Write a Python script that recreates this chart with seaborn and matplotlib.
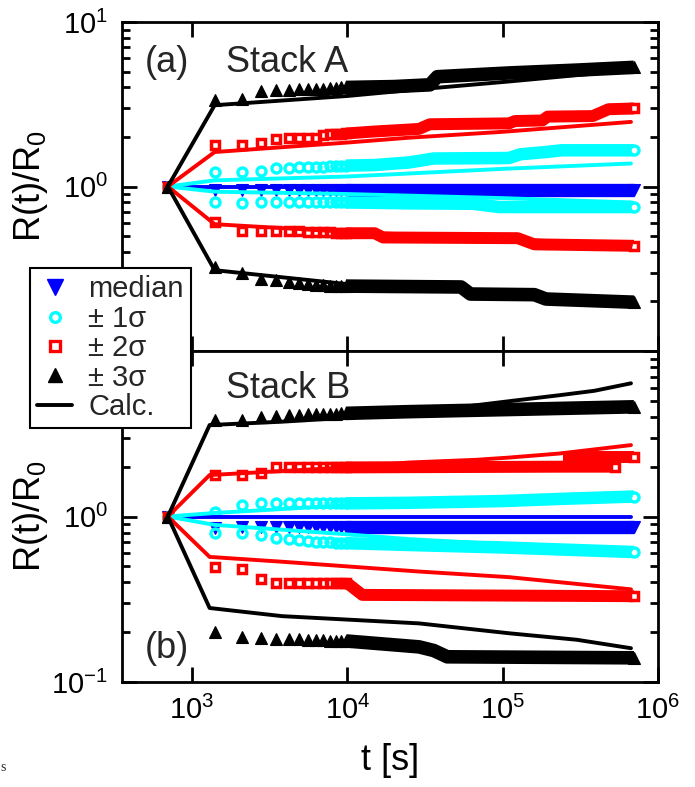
import matplotlib
matplotlib.use("Agg")
import matplotlib.pyplot as plt
import seaborn as sns
import pandas as pd
from matplotlib.lines import Line2D
from matplotlib.ticker import NullLocator, NullFormatter

# ---------------- data ----------------
# measurement times of the first, individually visible markers
T_EARLY = [700, 1400, 2100, 2800, 3500, 4200, 4900, 5600, 6300, 7000, 7700, 8400, 9100, 9800]

# ---- Stack A : early marker values ----
A_MED_E = [1.0, 0.95, 0.95, 0.95, 0.95, 0.95, 0.95, 0.95, 0.95, 0.95, 0.95, 0.95, 0.95, 0.95]
A_P1_E = [1.0, 1.23, 1.23, 1.24, 1.30, 1.30, 1.31, 1.31, 1.32, 1.32, 1.33, 1.33, 1.34, 1.34]
A_M1_E = [1.0, 0.81, 0.79, 0.80, 0.80, 0.80, 0.80, 0.80, 0.80, 0.80, 0.80, 0.80, 0.80, 0.80]
A_P2_E = [1.0, 1.78, 1.80, 1.84, 1.95, 1.97, 1.97, 1.97, 1.98, 2.07, 2.08, 2.08, 2.09, 2.10]
A_M2_E = [1.0, 0.605, 0.54, 0.54, 0.54, 0.535, 0.535, 0.53, 0.53, 0.53, 0.53, 0.525, 0.52, 0.52]
A_P3_E = [1.0, 3.34, 3.40, 3.81, 3.85, 3.88, 3.90, 3.90, 3.92, 3.94, 3.96, 3.98, 4.0, 4.0]
A_M3_E = [1.0, 0.322, 0.30, 0.274, 0.27, 0.262, 0.258, 0.255, 0.253, 0.252, 0.25, 0.25, 0.249, 0.248]

# ---- Stack A : dense part (t, value) ----
A_MED_D = [(9800, 0.95), (7.0e5, 0.95)]
A_P1_D = [(9800, 1.34), (1.5e4, 1.35), (2.5e4, 1.40), (3.6e4, 1.48), (1.1e5, 1.49),
          (1.3e5, 1.57), (1.9e5, 1.62), (2.4e5, 1.66), (7.0e5, 1.66)]
A_M1_D = [(9800, 0.80), (2.5e4, 0.79), (6.5e4, 0.785), (9.5e4, 0.75), (7.0e5, 0.75)]
A_P2_D = [(9800, 2.10), (1.5e4, 2.16), (2.5e4, 2.22), (2.9e4, 2.24), (3.4e4, 2.39),
          (1.1e5, 2.42), (1.2e5, 2.50), (1.8e5, 2.52), (1.95e5, 2.66), (3.8e5, 2.68),
          (4.8e5, 2.95), (7.0e5, 2.98)]
A_M2_D = [(9800, 0.52), (1.5e4, 0.52), (1.7e4, 0.49), (1.25e5, 0.485), (1.6e5, 0.445),
          (7.0e5, 0.436)]
A_P3_D = [(9800, 4.0), (2.0e4, 4.05), (3.4e4, 4.15), (3.8e4, 4.65), (1.1e5, 4.9),
          (3.0e5, 5.1), (7.0e5, 5.3)]
A_M3_D = [(9800, 0.248), (5.4e4, 0.245), (6.2e4, 0.222), (1.6e5, 0.22), (1.9e5, 0.207),
          (7.0e5, 0.198)]

# ---- Stack A : calculated curves (t, value) ----
A_MED_C = [(700, 1.0), (6.7e5, 1.0)]
A_P1_C = [(700, 1.0), (1400, 1.09), (1e4, 1.15), (2.5e4, 1.2), (1e5, 1.28), (6.7e5, 1.38)]
A_M1_C = [(700, 1.0), (1400, 0.93), (1e4, 0.90), (1e5, 0.85), (6.7e5, 0.80)]
A_P2_C = [(700, 1.0), (1400, 1.62), (1e4, 1.85), (2.5e4, 1.98), (1e5, 2.15), (6.7e5, 2.47)]
A_M2_C = [(700, 1.0), (1400, 0.59), (1e4, 0.53), (1e5, 0.48), (6.7e5, 0.44)]
A_P3_C = [(700, 1.0), (1400, 3.12), (1e4, 3.55), (2.5e4, 3.85), (1.1e5, 4.35), (6.7e5, 5.1)]
A_M3_C = [(700, 1.0), (1400, 0.31), (1e4, 0.255), (1e5, 0.225), (6.7e5, 0.20)]

# ---- Stack B : early marker values ----
B_MED_E = [1.0, 0.85, 0.86, 0.87, 0.87, 0.87, 0.87, 0.87, 0.87, 0.87, 0.87, 0.87, 0.87, 0.87]
B_P1_E = [1.0, 1.07, 1.17, 1.20, 1.20, 1.20, 1.20, 1.20, 1.20, 1.20, 1.20, 1.20, 1.20, 1.20]
B_M1_E = [1.0, 0.79, 0.79, 0.77, 0.74, 0.73, 0.72, 0.71, 0.705, 0.70, 0.70, 0.695, 0.69, 0.69]
B_P2_E = [1.0, 1.78, 1.78, 1.82, 1.98, 1.98, 1.98, 1.98, 1.98, 1.98, 1.98, 1.98, 1.98, 1.98]
B_M2_E = [1.0, 0.497, 0.48, 0.417, 0.398, 0.398, 0.398, 0.398, 0.398, 0.398, 0.398, 0.398, 0.398, 0.395]
B_P3_E = [1.0, 3.83, 3.83, 4.0, 4.05, 4.10, 4.12, 4.15, 4.15, 4.17, 4.18, 4.19, 4.2, 4.2]
B_M3_E = [1.0, 0.201, 0.188, 0.185, 0.183, 0.182, 0.181, 0.18, 0.18, 0.179, 0.178, 0.178, 0.177, 0.177]

# ---- Stack B : dense part (t, value) ----
B_MED_D = [(9800, 0.87), (7.0e5, 0.87)]
B_P1_D = [(9800, 1.20), (2.5e4, 1.21), (1.0e5, 1.24), (2.5e5, 1.28), (7.0e5, 1.32)]
B_M1_D = [(9800, 0.69), (2.9e4, 0.67), (1.0e5, 0.65), (7.0e5, 0.61)]
B_P2_D = [(9800, 1.98), (2.45e5, 2.0), (5.3e5, 2.0)]
B_P2_D_HI = [(2.45e5, 2.3), (7.0e5, 2.3)]   # upper branch of the fluctuating +2σ readings
B_M2_D = [(9800, 0.395), (1.02e4, 0.39), (1.25e4, 0.336), (7.0e5, 0.33)]
B_P3_D = [(9800, 4.2), (2.5e4, 4.3), (1.1e5, 4.43), (7.0e5, 4.6)]
B_M3_D = [(9800, 0.177), (2.9e4, 0.163), (3.6e4, 0.155), (4.4e4, 0.142), (7.0e5, 0.14)]

# ---- Stack B : calculated curves (t, value) ----
B_MED_C = [(700, 1.0), (6.7e5, 1.0)]
B_P1_C = [(700, 1.0), (1400, 1.05), (1e4, 1.17), (1e5, 1.25), (6.7e5, 1.33)]
B_M1_C = [(700, 1.0), (1400, 0.89), (1e4, 0.78), (2.5e4, 0.73), (1e5, 0.68), (6.7e5, 0.63)]
B_P2_C = [(700, 1.0), (1300, 1.78), (1e4, 1.98), (2.5e4, 2.12), (6.7e4, 2.2), (1.1e5, 2.27),
          (2.3e5, 2.4), (6.7e5, 2.7)]
B_M2_C = [(700, 1.0), (1300, 0.57), (3800, 0.533), (2.9e4, 0.465), (1.1e5, 0.43), (6.7e5, 0.363)]
B_P3_C = [(700, 1.0), (1300, 3.57), (3800, 3.74), (2.9e4, 4.2), (6.7e4, 4.7), (1.26e5, 5.05),
          (2.3e5, 5.4), (3.9e5, 5.75), (6.7e5, 6.38)]
B_M3_C = [(700, 1.0), (1300, 0.28), (3800, 0.25), (2.9e4, 0.226), (1.1e5, 0.197), (3e5, 0.18),
          (6.7e5, 0.16)]

LEGEND_LABELS = ["median", "± 1σ", "± 2σ", "± 3σ", "Calc."]
X_TICKS = [1e3, 1e4, 1e5, 1e6]
X_TICKLABELS = ["$10^{3}$", "$10^{4}$", "$10^{5}$", "$10^{6}$"]

# ---------------- styling ----------------
BLUE, CYAN, RED, BLACK = "#0000ff", "#00ffff", "#ff0000", "#000000"
# color, marker, markersize, filled, edge width, band width
STY = {
    "med": (BLUE, "v", 9.0, True, 0.8, 9.6),
    "p1": (CYAN, "o", 6.5, False, 2.4, 9.0),
    "m1": (CYAN, "o", 6.5, False, 2.4, 9.0),
    "p2": (RED, "s", 5.8, False, 2.5, 8.6),
    "m2": (RED, "s", 5.8, False, 2.5, 8.6),
    "p3": (BLACK, "^", 9.0, True, 0.8, 9.8),
    "m3": (BLACK, "^", 9.0, True, 0.8, 9.8),
}
CALC_LW = 2.8

sns.set_theme(style="ticks")
plt.rcParams["font.family"] = ["Liberation Sans", "DejaVu Sans"]
plt.rcParams["mathtext.fontset"] = "custom"
plt.rcParams["mathtext.rm"] = "Liberation Sans"
plt.rcParams["mathtext.it"] = "Liberation Sans:italic"
plt.rcParams["mathtext.bf"] = "Liberation Sans:bold"
plt.rcParams["mathtext.default"] = "regular"

W, H = 695, 787
fig = plt.figure(figsize=(W / 100, H / 100), dpi=100)
L, R = 122 / W, 658 / W
ax_a = fig.add_axes([L, 1 - 351 / H, R - L, 329 / H])
ax_b = fig.add_axes([L, 1 - 682 / H, R - L, 331 / H])


def draw_band(ax, key, dense, end_marker=True):
    color, mk, ms, filled, mew, blw = STY[key]
    dt = [p[0] for p in dense]
    dv = [p[1] for p in dense]
    sns.lineplot(x=dt, y=dv, ax=ax, color=color, lw=blw, estimator=None, sort=False,
                 solid_capstyle="butt", solid_joinstyle="round")
    if end_marker:
        sns.lineplot(x=[dt[-1]], y=[dv[-1]], ax=ax, color=color, linestyle="none", marker=mk,
                     markersize=ms, markerfacecolor=color if filled else "white",
                     markeredgecolor=color, markeredgewidth=mew, estimator=None, sort=False)


def draw_data(ax, key, early, dense, extra=None):
    color, mk, ms, filled, mew, blw = STY[key]
    fc = color if filled else "none"
    draw_band(ax, key, dense)
    if extra is not None:
        draw_band(ax, key, extra)
    sns.lineplot(x=T_EARLY, y=early, ax=ax, color=color, linestyle="none", marker=mk,
                 markersize=ms, markerfacecolor=fc, markeredgecolor=color,
                 markeredgewidth=mew, estimator=None, sort=False)


def draw_calc(ax, key, calc):
    color = STY[key][0]
    sns.lineplot(x=[p[0] for p in calc], y=[p[1] for p in calc], ax=ax, color=color,
                 lw=CALC_LW, estimator=None, sort=False, solid_joinstyle="round")


panels = [
    (ax_a, [("med", A_MED_E, A_MED_D, A_MED_C, None), ("p1", A_P1_E, A_P1_D, A_P1_C, None),
            ("m1", A_M1_E, A_M1_D, A_M1_C, None), ("p2", A_P2_E, A_P2_D, A_P2_C, None),
            ("m2", A_M2_E, A_M2_D, A_M2_C, None), ("p3", A_P3_E, A_P3_D, A_P3_C, None),
            ("m3", A_M3_E, A_M3_D, A_M3_C, None)]),
    (ax_b, [("med", B_MED_E, B_MED_D, B_MED_C, None), ("p1", B_P1_E, B_P1_D, B_P1_C, None),
            ("m1", B_M1_E, B_M1_D, B_M1_C, None), ("p2", B_P2_E, B_P2_D, B_P2_C, B_P2_D_HI),
            ("m2", B_M2_E, B_M2_D, B_M2_C, None), ("p3", B_P3_E, B_P3_D, B_P3_C, None),
            ("m3", B_M3_E, B_M3_D, B_M3_C, None)]),
]

for ax, series in panels:
    ax.set_xscale("log")
    ax.set_yscale("log")
    for key, e, d, c, x in series:
        draw_data(ax, key, e, d, x)
    for key, e, d, c, x in series:
        draw_calc(ax, key, c)
    ax.set_xlim(10 ** 2.55, 1e6)
    ax.set_ylim(0.1, 10)
    ax.set_xticks(X_TICKS)
    ax.xaxis.set_minor_locator(NullLocator())
    ax.yaxis.set_minor_formatter(NullFormatter())
    ax.tick_params(which="both", direction="in", top=True, right=True, width=2,
                   labelsize=21, color="black", labelcolor="black")
    ax.tick_params(which="major", length=11)
    ax.tick_params(which="minor", length=6)
    ax.tick_params(axis="y", pad=10)
    ax.tick_params(axis="x", pad=10)
    for sp in ax.spines.values():
        sp.set_linewidth(2)
        sp.set_color("black")
        sp.set_visible(True)
    ax.set_ylabel("R(t)/R$_0$", fontsize=26, color="black")
    ax.yaxis.set_label_coords(-0.135, 0.5)
    ax.set_xlabel("")
    ax.grid(False)

ax_a.set_yticks([0.1, 1, 10], labels=["", "$10^{0}$", "$10^{1}$"])
ax_b.set_yticks([0.1, 1, 10], labels=["$10^{-1}$", "$10^{0}$", ""])
ax_a.set_xticklabels([""] * len(X_TICKS))
ax_b.set_xticklabels(X_TICKLABELS)
ax_b.set_xlabel("t [s]", fontsize=26, color="black")
ax_b.xaxis.set_label_coords(0.5, -0.185)

ax_a.text(0.043, 0.848, "(a)", transform=ax_a.transAxes, fontsize=26, va="baseline")
ax_a.text(0.194, 0.848, "Stack A", transform=ax_a.transAxes, fontsize=26, va="baseline")
ax_b.text(0.194, 0.858, "Stack B", transform=ax_b.transAxes, fontsize=26, va="baseline")
ax_b.text(0.043, 0.0725, "(b)", transform=ax_b.transAxes, fontsize=26, va="baseline")

handles = [
    Line2D([], [], linestyle="none", marker="v", markersize=11, color=BLUE,
           markerfacecolor=BLUE, markeredgecolor=BLUE),
    Line2D([], [], linestyle="none", marker="o", markersize=7, color=CYAN,
           markerfacecolor="none", markeredgecolor=CYAN, markeredgewidth=2.4),
    Line2D([], [], linestyle="none", marker="s", markersize=6.5, color=RED,
           markerfacecolor="none", markeredgecolor=RED, markeredgewidth=2.4),
    Line2D([], [], linestyle="none", marker="^", markersize=10.5, color=BLACK,
           markerfacecolor=BLACK, markeredgecolor=BLACK),
    Line2D([], [], color=BLACK, lw=CALC_LW),
]
leg = fig.legend(handles, LEGEND_LABELS, loc="upper left",
                 bbox_to_anchor=(30 / W, 1 - 268 / H), bbox_transform=fig.transFigure,
                 frameon=True, fancybox=False, edgecolor="black", framealpha=1,
                 fontsize=21, borderpad=0.25, handlelength=1.2, handletextpad=0.55,
                 labelspacing=0.05, borderaxespad=0, numpoints=1)
leg.get_frame().set_linewidth(1.5)

fig.text(0.001, 1 - 771 / H, "s", family=["Liberation Serif", "DejaVu Serif"], fontsize=10,
         ha="left", va="baseline")

fig.savefig("out.png", dpi=100, facecolor="white")
